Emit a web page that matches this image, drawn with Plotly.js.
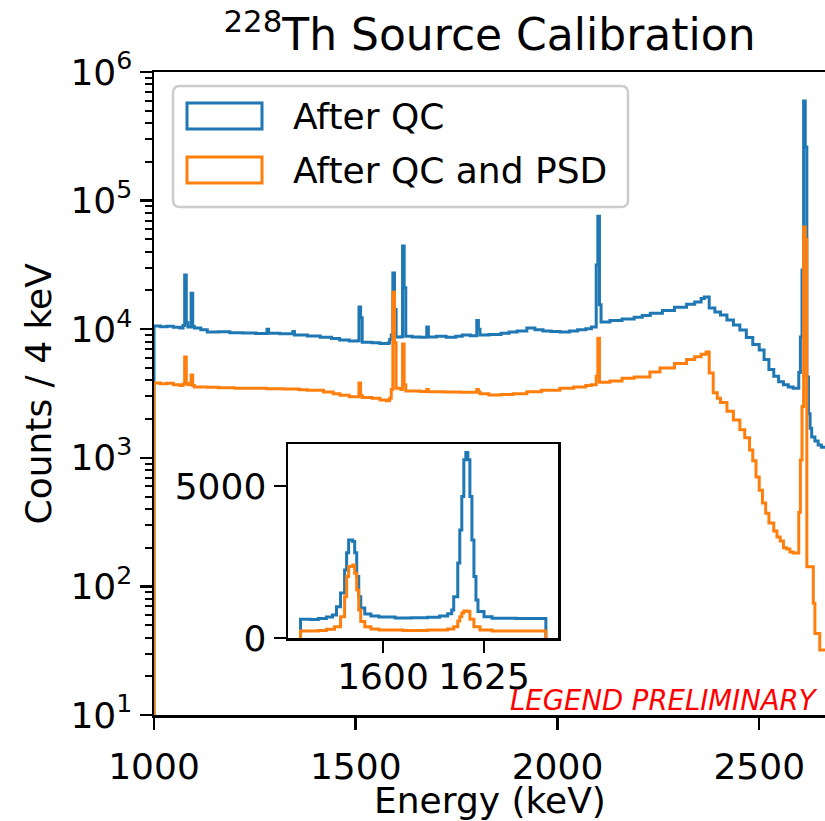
<!DOCTYPE html>
<html>
<head>
<meta charset="utf-8">
<script src="https://cdn.plot.ly/plotly-3.0.1.min.js"></script>
<style>html,body{margin:0;padding:0;background:#fff;overflow:hidden;}#plot{width:825px;height:821px;}</style>
</head>
<body>
<div id="plot"></div>
<script>
// ---------------- data ----------------
// Main spectrum: bin start energies (keV) and counts per 4 keV
const blueEnergy = [1000,1016,1032,1048,1064,1072,1076,1080,1084,1092,1096,1100,1116,1132,1160,1188,1220,1252,1280,1284,1312,1344,1348,1380,1412,1440,1460,1484,1504,1508,1512,1516,1540,1560,1580,1584,1588,1592,1596,1600,1612,1616,1620,1624,1640,1660,1676,1680,1700,1724,1748,1764,1784,1800,1804,1808,1830,1860,1880,1900,1924,1944,1964,1984,2006,2030,2050,2070,2084,2096,2100,2104,2108,2130,2160,2190,2210,2230,2260,2290,2320,2340,2356,2364,2376,2390,2404,2420,2436,2452,2468,2484,2500,2512,2524,2536,2548,2560,2572,2584,2598,2602,2606,2610,2614,2618,2622,2626,2630,2638,2646,2654,2670];
const blueCounts = [10600,10450,10550,10350,10240,10700,26400,11200,10400,19000,10500,10200,9900,9500,9550,9400,9350,9250,10000,9300,9200,9600,9000,8870,8650,8450,8250,8100,8150,14900,12300,7900,7850,7750,7800,8300,9000,27400,14200,8700,8750,44400,21000,8800,8700,8650,10400,8700,8800,8650,8800,9000,8900,11700,10000,9000,9100,9300,9500,9700,10200,9900,9700,9600,9500,9700,9900,10100,10400,31500,75600,15500,11400,11700,12000,12400,12800,13300,14000,14800,15600,16300,17300,17800,14600,13600,12900,11800,10800,9870,8600,7600,6890,5800,4850,4300,3900,3700,3550,3480,4600,8700,28900,594000,261000,4250,2200,1700,1450,1350,1260,1210,1200];

const orangeEnergy = [1000,1016,1032,1048,1064,1072,1076,1080,1084,1092,1096,1100,1132,1160,1200,1240,1280,1320,1360,1380,1420,1444,1461,1484,1504,1508,1512,1516,1540,1560,1576,1584,1588,1592,1596,1600,1612,1616,1620,1624,1660,1676,1680,1720,1760,1800,1804,1808,1830,1860,1890,1924,1960,2006,2040,2070,2084,2096,2100,2104,2130,2160,2190,2229,2254,2290,2320,2340,2356,2368,2376,2386,2396,2404,2420,2436,2452,2464,2476,2484,2492,2500,2508,2516,2524,2536,2544,2552,2560,2568,2576,2584,2598,2602,2606,2610,2614,2618,2634,2638,2650,2670];
const orangeCounts = [3820,3760,3800,3700,3650,3750,6080,3800,3700,4400,3650,3550,3530,3500,3480,3470,3450,3420,3380,3350,3250,3150,3070,2980,2990,3820,3050,2950,2900,2820,2780,2900,3400,19400,7850,3480,3400,7680,3700,3300,3280,3400,3270,3250,3230,3400,3250,3150,3080,3100,3150,3270,3350,3480,3560,3650,3700,4300,8500,3860,3950,4150,4240,4640,5000,5400,5800,6100,6400,6650,4570,3200,2900,2690,2300,1970,1650,1430,1150,950,710,560,445,370,311,270,242,225,200,195,185,182,378,960,2500,62400,50000,142,74,43,32,32];

// Inset (1580-1640 keV zoom, linear counts)
const insetBlueEnergy = [1579.6,1579.6,1582,1584,1586,1587.5,1588.5,1589.5,1590.5,1591,1591.5,1592.5,1593,1593.5,1594,1594.5,1595.5,1597,1599,1603,1607,1611,1614,1616,1617,1617.5,1618.5,1619,1619.5,1620,1620.5,1621,1621.5,1622,1622.5,1623,1623.5,1625,1627,1633,1640.3];
const insetBlueCounts = [0,620,610,640,690,760,1030,1480,2240,2800,3220,3170,2800,2020,1360,990,790,720,690,660,670,680,720,800,920,1360,2470,3550,4650,5860,6100,5860,4650,3220,2020,1250,870,700,650,640,0];
const insetOrangeEnergy = [1579.6,1579.6,1584,1586,1588,1589.5,1590.5,1591,1591.5,1592.5,1593,1593.5,1594,1594.5,1595.5,1597,1599,1605,1611,1616,1617.5,1618.5,1619,1619.5,1620,1621,1621.5,1622.5,1624,1627,1640.3];
const insetOrangeCounts = [0,230,250,290,373,700,1360,2020,2350,2400,2130,1580,920,540,373,296,263,250,260,300,373,560,700,820,888,870,615,373,263,230,0];

// Tick values / labels
const xTickVals = [1000,1500,2000,2500];
const yTickVals = [10,100,1000,10000,100000,1000000];
const yTickText = ['10<sup>1</sup>','10<sup>2</sup>','10<sup>3</sup>','10<sup>4</sup>','10<sup>5</sup>','10<sup>6</sup>'];
const insetXTickVals = [1600,1625];
const insetYTickVals = [0,5000];
const seriesNames = ['After QC','After QC and PSD'];
const titleText = '<sup>228</sup>Th Source Calibration';
const xTitle = 'Energy (keV)';
const yTitle = 'Counts / 4 keV';

// ---------------- layout helpers ----------------
const W = 825, H = 821;
const PL = 154, PR = 825, PT = 72, PB = 715;
const px2x = p => (p - PL) / (PR - PL);
const py2y = p => (PB - p) / (PB - PT);
const BLUE = '#1f77b4', ORANGE = '#ff7f0e';
const FONT = 'DejaVu Sans, Liberation Sans, sans-serif';
const LW = 3;

// minor log ticks (2..9 in each decade)
const minorVals = [];
for (let d = 1; d < 6; d++) for (let k = 2; k < 10; k++) minorVals.push(k * Math.pow(10, d));

function stepPts(energy, counts) {
  return {x: [energy[0]].concat(energy), y: [0.1].concat(counts)};
}
const bMain = stepPts(blueEnergy, blueCounts);
const oMain = stepPts(orangeEnergy, orangeCounts);

const traces = [
  {x: bMain.x, y: bMain.y, type: 'scatter', mode: 'lines', line: {color: BLUE, width: LW, shape: 'hv', simplify: false}, xaxis: 'x', yaxis: 'y', name: seriesNames[0], hoverinfo: 'skip'},
  {x: oMain.x, y: oMain.y, type: 'scatter', mode: 'lines', line: {color: ORANGE, width: LW, shape: 'hv', simplify: false}, xaxis: 'x', yaxis: 'y', name: seriesNames[1], hoverinfo: 'skip'},
  {x: insetBlueEnergy, y: insetBlueCounts, type: 'scatter', mode: 'lines', line: {color: BLUE, width: LW, shape: 'hv', simplify: false}, xaxis: 'x2', yaxis: 'y2', hoverinfo: 'skip'},
  {x: insetOrangeEnergy, y: insetOrangeCounts, type: 'scatter', mode: 'lines', line: {color: ORANGE, width: LW, shape: 'hv', simplify: false}, xaxis: 'x2', yaxis: 'y2', hoverinfo: 'skip'}
];

function rrect(x0, y0, x1, y1, r) {
  const X = px2x, Y = py2y;
  return 'M' + X(x0 + r) + ',' + Y(y0) +
    ' L' + X(x1 - r) + ',' + Y(y0) +
    ' Q' + X(x1) + ',' + Y(y0) + ' ' + X(x1) + ',' + Y(y0 + r) +
    ' L' + X(x1) + ',' + Y(y1 - r) +
    ' Q' + X(x1) + ',' + Y(y1) + ' ' + X(x1 - r) + ',' + Y(y1) +
    ' L' + X(x0 + r) + ',' + Y(y1) +
    ' Q' + X(x0) + ',' + Y(y1) + ' ' + X(x0) + ',' + Y(y1 - r) +
    ' L' + X(x0) + ',' + Y(y0 + r) +
    ' Q' + X(x0) + ',' + Y(y0) + ' ' + X(x0 + r) + ',' + Y(y0) + ' Z';
}

const axisCommon = {
  ticks: 'outside', ticklen: 12, tickwidth: 2.5, tickcolor: '#000',
  showline: true, linewidth: 2.5, linecolor: '#000', mirror: true,
  showgrid: false, zeroline: false,
  tickfont: {family: FONT, size: 36, color: '#000'}
};

const layout = {
  width: W, height: H,
  paper_bgcolor: '#fff', plot_bgcolor: '#fff',
  margin: {l: PL, r: W - PR, t: PT, b: H - PB, pad: 0},
  showlegend: false,
  font: {family: FONT, color: '#000'},
  title: {text: titleText, font: {family: FONT, size: 44, color: '#000'},
          x: 0.5, xref: 'paper', xanchor: 'center', y: 1 - 34.6 / H, yref: 'container', yanchor: 'middle'},
  xaxis: Object.assign({}, axisCommon, {
    domain: [0, 1], anchor: 'y', range: [1000, 2663],
    tickmode: 'array', tickvals: xTickVals, ticklabelstandoff: 6
  }),
  yaxis: Object.assign({}, axisCommon, {
    domain: [0, 1], anchor: 'x', type: 'log', range: [1, 6],
    tickmode: 'array', tickvals: yTickVals, ticktext: yTickText,
    minor: {tickmode: 'array', tickvals: minorVals, ticks: 'outside', ticklen: 7, tickwidth: 2, tickcolor: '#000', showgrid: false}
  }),
  xaxis2: Object.assign({}, axisCommon, {
    domain: [px2x(288), px2x(558)], anchor: 'y2', range: [1576.5, 1643.3],
    tickmode: 'array', tickvals: insetXTickVals, ticklabelstandoff: -7
  }),
  yaxis2: Object.assign({}, axisCommon, {
    domain: [py2y(638), py2y(444)], anchor: 'x2', range: [0, 6380],
    tickmode: 'array', tickvals: insetYTickVals
  }),
  shapes: [
    {type: 'path', xref: 'paper', yref: 'paper', path: rrect(173, 86, 628, 207, 7),
     fillcolor: 'rgba(255,255,255,0.8)', line: {color: '#cccccc', width: 2.5}, layer: 'above'},
    {type: 'rect', xref: 'paper', yref: 'paper', x0: px2x(187), x1: px2x(262), y0: py2y(129), y1: py2y(103),
     line: {color: BLUE, width: LW}, fillcolor: 'rgba(0,0,0,0)', layer: 'above'},
    {type: 'rect', xref: 'paper', yref: 'paper', x0: px2x(187), x1: px2x(262), y0: py2y(183), y1: py2y(157),
     line: {color: ORANGE, width: LW}, fillcolor: 'rgba(0,0,0,0)', layer: 'above'}
  ],
  annotations: [
    {text: seriesNames[0], xref: 'paper', yref: 'paper', x: px2x(291), y: py2y(116.5), xanchor: 'left', yanchor: 'middle',
     showarrow: false, font: {family: FONT, size: 36, color: '#000'}},
    {text: seriesNames[1], xref: 'paper', yref: 'paper', x: px2x(291), y: py2y(170), xanchor: 'left', yanchor: 'middle',
     showarrow: false, font: {family: FONT, size: 36, color: '#000'}},
    {text: '<i>LEGEND PRELIMINARY</i>', xref: 'paper', yref: 'paper', x: px2x(820), y: py2y(700), xanchor: 'right', yanchor: 'middle',
     showarrow: false, font: {family: FONT, size: 27.5, color: '#ff0000'}},
    {text: xTitle, xref: 'paper', yref: 'paper', x: 0.5, y: py2y(800), xanchor: 'center', yanchor: 'middle',
     showarrow: false, font: {family: FONT, size: 36, color: '#000'}},
    {text: yTitle, xref: 'paper', yref: 'paper', x: px2x(38), y: 0.5, xanchor: 'center', yanchor: 'middle', textangle: -90,
     showarrow: false, font: {family: FONT, size: 36, color: '#000'}}
  ]
};

Plotly.newPlot('plot', traces, layout, {displayModeBar: false, staticPlot: true});
</script>
</body>
</html>
